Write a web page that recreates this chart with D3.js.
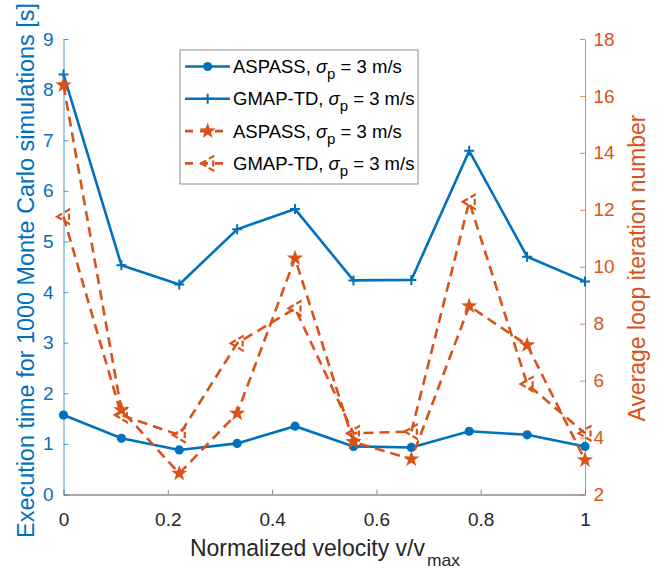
<!DOCTYPE html>
<html>
<head>
<meta charset="utf-8">
<script src="https://cdn.jsdelivr.net/npm/d3@7"></script>
<style>
  body { margin: 0; background: #fff; }
  svg text { font-family: "Liberation Sans", Arial, sans-serif; }
</style>
</head>
<body>
<div id="canvas"></div>
<script>
const velocity = [0, 0.111, 0.222, 0.333, 0.444, 0.556, 0.667, 0.778, 0.889, 1]

// execution time [s], left axis
const timeASPASS = [1.57, 1.11, 0.88, 1.01, 1.35, 0.95, 0.93, 1.25, 1.18, 0.95]
const timeGMAP = [8.3, 4.53, 4.15, 5.24, 5.64, 4.23, 4.24, 6.79, 4.7, 4.21]

// average loop iterations, right axis
const iterASPASS = [16.38, 4.97, 2.74, 4.85, 10.3, 3.85, 3.24, 8.62, 7.25, 3.21]
const iterGMAP = [11.76, 4.79, 4.09, 7.31, 8.54, 4.15, 4.21, 12.28, 5.88, 4.15]

const xTicks = [0, 0.2, 0.4, 0.6, 0.8, 1]
const leftTicks = [0, 1, 2, 3, 4, 5, 6, 7, 8, 9]
const rightTicks = [2, 4, 6, 8, 10, 12, 14, 16, 18]
const legendNames = ["ASPASS", "GMAP-TD", "ASPASS", "GMAP-TD"]

const blue = "#0072BD"
const orange = "#D95319"

const width = 666
const height = 571
const plot = { left: 63.5, right: 585, top: 39, bottom: 494.5 }

const svg = d3.select("#canvas").append("svg")
    .attr("width", width)
    .attr("height", height)

const x = d3.scaleLinear().domain([0, 1]).range([plot.left, plot.right])
const yL = d3.scaleLinear().domain([0, 9]).range([plot.bottom, plot.top])
const yR = d3.scaleLinear().domain([2, 18]).range([plot.bottom, plot.top])

// marker shapes
const starPath = (() => {
    let p = []
    for (let i = 0; i < 10; i++) {
        const r = i % 2 === 0 ? 8.5 : 3.4
        const a = -Math.PI / 2 + i * Math.PI / 5
        p.push([r * Math.cos(a), r * Math.sin(a)])
    }
    return "M" + p.map(d => d.join(",")).join("L") + "Z"
})()
const triPath = "M-6.5,0L5.5,-7L5.5,7Z"
const plusPath = "M-5,0H5M0,-5V5"

function drawMarker(sel, type, color) {
    if (type === "circle") {
        sel.append("circle").attr("r", 4.6).attr("fill", color)
    } else if (type === "plus") {
        sel.append("path").attr("d", plusPath).attr("stroke", color)
            .attr("stroke-width", 2).attr("fill", "none")
    } else if (type === "star") {
        sel.append("path").attr("d", starPath).attr("fill", color)
    } else {
        sel.append("path").attr("d", triPath).attr("fill", "none")
            .attr("stroke", color).attr("stroke-width", 2.2)
            .attr("stroke-dasharray", "6,3")
    }
}

// text squeezed to the narrow look of the original labels
function fitText(str, size, color, len, tx, ty, rot, anchor) {
    const t = svg.append("text")
        .attr("font-size", size)
        .attr("fill", color)
        .attr("text-anchor", anchor)
        .text(str)
    const w = t.node().getComputedTextLength()
    t.attr("transform", `translate(${tx},${ty}) rotate(${rot}) scale(${len / w},1)`)
    return t
}

// axes
const axG = svg.append("g")

const xAxis = axG.append("g")
    .attr("transform", `translate(0,${plot.bottom})`)
    .call(d3.axisBottom(x).tickValues(xTicks).tickFormat(d3.format("~g"))
        .tickSizeInner(-5).tickSizeOuter(0).tickPadding(18))
xAxis.select(".domain").attr("stroke", "#8c8c8c").attr("stroke-width", 1.3)
xAxis.selectAll(".tick line").attr("stroke", "#8c8c8c")
xAxis.selectAll("text").attr("fill", "#262626").attr("font-size", 19)

const leftAxis = axG.append("g")
    .attr("transform", `translate(${plot.left},0)`)
    .call(d3.axisLeft(yL).tickValues(leftTicks)
        .tickSizeInner(-5).tickSizeOuter(0).tickPadding(10))
leftAxis.select(".domain").attr("stroke", blue).attr("stroke-opacity", 0.7)
leftAxis.selectAll(".tick line").attr("stroke", blue).attr("stroke-opacity", 0.7)
leftAxis.selectAll("text").attr("fill", blue).attr("font-size", 19)

const rightAxis = axG.append("g")
    .attr("transform", `translate(${plot.right},0)`)
    .call(d3.axisRight(yR).tickValues(rightTicks)
        .tickSizeInner(-5).tickSizeOuter(0).tickPadding(8.5))
rightAxis.select(".domain").attr("stroke", orange).attr("stroke-opacity", 0.7)
rightAxis.selectAll(".tick line").attr("stroke", orange).attr("stroke-opacity", 0.7)
rightAxis.selectAll("text").attr("fill", orange).attr("font-size", 19)

// axis labels
fitText("Execution time for 1000 Monte Carlo simulations [s]", 24, blue, 535, 33.5, 270.5, -90, "middle")
fitText("Average loop iteration number", 24, orange, 307, 645, 268, -90, "middle")
fitText("Normalized velocity v/v", 23.5, "#262626", 235, 190, 555.5, 0, "start")
fitText("max", 16, "#262626", 33, 427, 565.5, 0, "start")

// series
const series = [
    { vals: timeASPASS, y: yL, color: blue, dash: null, marker: "circle" },
    { vals: timeGMAP, y: yL, color: blue, dash: null, marker: "plus" },
    { vals: iterASPASS, y: yR, color: orange, dash: "10,6", marker: "star" },
    { vals: iterGMAP, y: yR, color: orange, dash: "10,6", marker: "tri" }
]

series.forEach(s => {
    const line = d3.line().x((d, i) => x(velocity[i])).y(d => s.y(d))
    svg.append("path")
        .datum(s.vals)
        .attr("d", line)
        .attr("fill", "none")
        .attr("stroke", s.color)
        .attr("stroke-width", 2.6)
        .attr("stroke-dasharray", s.dash)
    svg.append("g").selectAll("g")
        .data(s.vals)
        .join("g")
        .attr("transform", (d, i) => `translate(${x(velocity[i])},${s.y(d)})`)
        .each(function() { drawMarker(d3.select(this), s.marker, s.color) })
})

// legend
const lg = svg.append("g")
lg.append("rect")
    .attr("x", 180).attr("y", 50)
    .attr("width", 238).attr("height", 134)
    .attr("fill", "#fff")
    .attr("stroke", "#8c8c8c")
    .attr("stroke-width", 1)

series.forEach((s, i) => {
    const ry = 66.5 + i * 32.3
    const row = lg.append("g").attr("transform", `translate(0,${ry})`)
    row.append("line")
        .attr("x1", 185).attr("x2", 230)
        .attr("stroke", s.color).attr("stroke-width", 2.6)
        .attr("stroke-dasharray", s.dash ? "8,7" : null)
    drawMarker(row.append("g").attr("transform", "translate(207.7,0)"), s.marker, s.color)
    const t = row.append("text")
        .attr("x", 233).attr("y", 6.5)
        .attr("font-size", 18.5)
        .attr("fill", "#000")
    t.append("tspan").text(legendNames[i] + ", ")
    t.append("tspan").attr("font-style", "italic").text("σ")
    t.append("tspan").attr("dy", 6).attr("font-size", 15).text("p")
    t.append("tspan").attr("dy", -6).text(" = 3 m/s")
})
</script>
</body>
</html>
